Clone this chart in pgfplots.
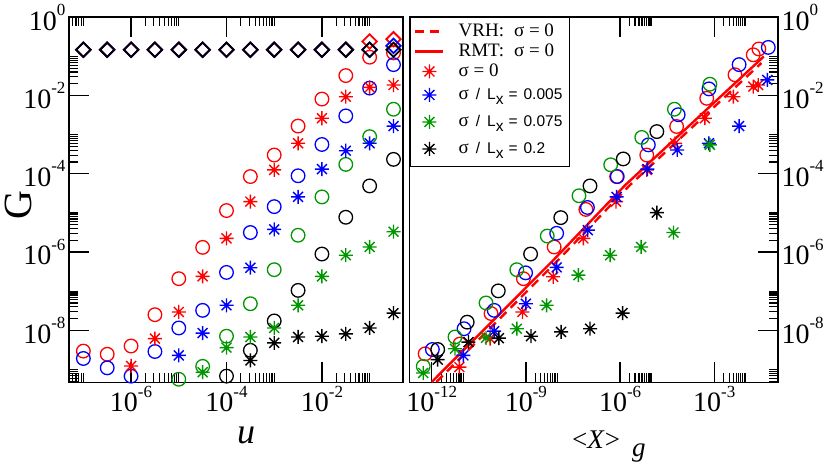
\documentclass[border=0pt]{standalone}
\usepackage{fontspec}
\setmainfont{Liberation Serif}
\setsansfont{Liberation Sans}
\usepackage{pgfplots}
\pgfplotsset{compat=1.18}

\definecolor{ggreen}{RGB}{0,150,0}

\pgfdeclareplotmark{ast8}{%
  \pgfpathmoveto{\pgfqpoint{-\pgfplotmarksize}{0pt}}%
  \pgfpathlineto{\pgfqpoint{\pgfplotmarksize}{0pt}}%
  \pgfpathmoveto{\pgfqpoint{0pt}{-\pgfplotmarksize}}%
  \pgfpathlineto{\pgfqpoint{0pt}{\pgfplotmarksize}}%
  \pgfpathmoveto{\pgfqpoint{-0.707\pgfplotmarksize}{-0.707\pgfplotmarksize}}%
  \pgfpathlineto{\pgfqpoint{0.707\pgfplotmarksize}{0.707\pgfplotmarksize}}%
  \pgfpathmoveto{\pgfqpoint{-0.707\pgfplotmarksize}{0.707\pgfplotmarksize}}%
  \pgfpathlineto{\pgfqpoint{0.707\pgfplotmarksize}{-0.707\pgfplotmarksize}}%
  \pgfusepathqstroke}

\newcommand{\tl}[1]{10\raisebox{0.53em}{\fontsize{17}{17}\selectfont #1}}
% legend texts
\newcommand{\lser}{\fontsize{19}{20}\selectfont}
\newcommand{\lsig}[1]{\lser\hspace{11pt}σ\hspace{7pt}\textsf{\fontsize{15.5}{17}\selectfont /\hspace{7pt}L\raisebox{-5pt}{x}\hspace{5pt}=\hspace{6pt}#1}}

\tikzset{
  legA/.style={text height=13pt, text depth=3pt},
  legB/.style={text height=16pt, text depth=7pt},
}

\pgfplotsset{
  myax/.style={
    scale only axis,
    ymin=4.7e-10, ymax=1.035,
    axis line style={line width=1.6pt},
    tick style={line width=1.2pt, black},
    major tick length=20pt, minor tick length=9pt,
    tick align=inside,
    tick label style={font=\fontsize{28}{30}\selectfont},
    clip=false,
    ytick={1e-8,1e-6,1e-4,1e-2,1},
    yticklabels={\tl{-8},\tl{-6},\tl{-4},\tl{-2},\tl{0}},
    minor ytick={5e-10,6e-10,7e-10,8e-10,9e-10,1e-9,
      2e-8,3e-8,4e-8,5e-8,6e-8,7e-8,8e-8,9e-8,1e-7,
      2e-6,3e-6,4e-6,5e-6,6e-6,7e-6,8e-6,9e-6,1e-5,
      2e-4,3e-4,4e-4,5e-4,6e-4,7e-4,8e-4,9e-4,1e-3,
      2e-2,3e-2,4e-2,5e-2,6e-2,7e-2,8e-2,9e-2,1e-1},
    legend image code/.code={\draw[mark repeat=2,mark phase=2,##1] plot coordinates {(0pt,0pt) (14pt,0pt) (28pt,0pt)};},
  },
  mycirc/.style={only marks, mark=o, mark size=6.8pt, mark options={line width=1.3pt}},
  mystar/.style={only marks, mark=ast8, mark size=7pt, mark options={line width=1.4pt}},
  mydiam/.style={only marks, mark=square, mark size=5.1pt, mark options={line width=1.8pt, rotate=45}},
}

\begin{document}
\begin{tikzpicture}
\useasboundingbox (0,0) rectangle (830pt,469pt);

% ---------------- left panel ----------------
\begin{axis}[xmode=log, ymode=log, myax,
  at={(69pt,86.7pt)}, anchor=south west,
  width=334pt, height=365.6pt,
  xmin=5e-8, xmax=0.5,
  xtick={1e-6,1e-4,1e-2},
  xticklabels={\tl{-6},\tl{-4},\tl{-2}},
  minor xtick={6e-8,7e-8,8e-8,9e-8,1e-7,
    2e-6,3e-6,4e-6,5e-6,6e-6,7e-6,8e-6,9e-6,1e-5,
    2e-4,3e-4,4e-4,5e-4,6e-4,7e-4,8e-4,9e-4,1e-3,
    2e-2,3e-2,4e-2,5e-2,6e-2,7e-2,8e-2,9e-2,1e-1},
  xtick pos=both, ytick pos=left,
  xlabel={\fontsize{36}{36}\selectfont\textit{u}},
  xlabel style={at={(axis description cs:0.53,0)}, anchor=base, yshift=-60.7pt},
  ylabel={\fontsize{40}{40}\selectfont G},
  ylabel style={at={(axis description cs:-0.152,0.485)}, anchor=center, inner sep=0pt},
]
% circles
\addplot[mycirc, red] coordinates {(1e-7,2.95e-9)(3.162e-7,2.45e-9)(1e-6,3.98e-9)(3.162e-6,2.51e-8)(1e-5,2.09e-7)(3.162e-5,1.32e-6)(1e-4,1.15e-5)(3.162e-4,8.51e-5)(1e-3,3.02e-4)(3.162e-3,1.66e-3)(1e-2,8.13e-3)(3.162e-2,3.24e-2)(1e-1,9.55e-2)(3.162e-1,1.23e-1)};
\addplot[mycirc, blue] coordinates {(1e-7,1.91e-9)(3.162e-7,1.10e-9)(1e-6,6.76e-10)(3.162e-6,2.88e-9)(1e-5,1.15e-8)(3.162e-5,3.24e-8)(1e-4,3.02e-7)(3.162e-4,3.16e-6)(1e-3,1.45e-5)(3.162e-3,8.91e-5)(1e-2,5.62e-4)(3.162e-2,3.02e-3)(1e-1,1.55e-2)(3.162e-1,6.17e-2)};
\addplot[mycirc, ggreen] coordinates {(1e-5,5.62e-10)(3.162e-5,1.20e-9)(1e-4,7.08e-9)(3.162e-4,4.79e-8)(1e-3,3.55e-7)(3.162e-3,2.69e-6)(1e-2,2.57e-5)(3.162e-2,1.74e-4)(1e-1,8.91e-4)(3.162e-1,4.47e-3)};
\addplot[mycirc, black] coordinates {(1e-4,6.76e-10)(3.162e-4,3.09e-9)(1e-3,1.74e-8)(3.162e-3,1.05e-7)(1e-2,8.91e-7)(3.162e-2,7.76e-6)(1e-1,4.90e-5)(3.162e-1,2.34e-4)};
% stars
\addplot[mystar, red] coordinates {(1e-6,1.23e-9)(3.162e-6,6.17e-9)(1e-5,2.95e-8)(3.162e-5,2.40e-7)(1e-4,2.24e-6)(3.162e-4,1.95e-5)(1e-3,1.26e-4)(3.162e-3,6.03e-4)(1e-2,2.63e-3)(3.162e-2,9.33e-3)(1e-1,1.62e-2)(3.162e-1,1.86e-2)};
\addplot[mystar, blue] coordinates {(1e-5,2.29e-9)(3.162e-5,8.51e-9)(1e-4,4.37e-8)(3.162e-4,3.98e-7)(1e-3,3.80e-6)(3.162e-3,2.57e-5)(1e-2,1.32e-4)(3.162e-2,3.89e-4)(1e-1,6.03e-4)(3.162e-1,1.66e-3)};
\addplot[mystar, ggreen] coordinates {(3.162e-5,8.51e-10)(1e-4,3.63e-9)(3.162e-4,6.76e-9)(1e-3,1.15e-8)(3.162e-3,4.37e-8)(1e-2,2.40e-7)(3.162e-2,8.32e-7)(1e-1,1.35e-6)(3.162e-1,3.31e-6)};
\addplot[mystar, black] coordinates {(3.162e-4,1.70e-9)(1e-3,4.79e-9)(3.162e-3,6.76e-9)(1e-2,7.08e-9)(3.162e-2,8.13e-9)(1e-1,1.15e-8)(3.162e-1,2.75e-8)};
% diamonds
\addplot[mydiam, red] coordinates {(1e-7,1.48e-1)(3.162e-7,1.48e-1)(1e-6,1.48e-1)(3.162e-6,1.48e-1)(1e-5,1.48e-1)(3.162e-5,1.48e-1)(1e-4,1.48e-1)(3.162e-4,1.48e-1)(1e-3,1.48e-1)(3.162e-3,1.48e-1)(1e-2,1.48e-1)(3.162e-2,1.48e-1)(1e-1,2.40e-1)(3.162e-1,2.75e-1)};
\addplot[mydiam, blue] coordinates {(1e-7,1.48e-1)(3.162e-7,1.48e-1)(1e-6,1.48e-1)(3.162e-6,1.48e-1)(1e-5,1.48e-1)(3.162e-5,1.48e-1)(1e-4,1.48e-1)(3.162e-4,1.48e-1)(1e-3,1.48e-1)(3.162e-3,1.48e-1)(1e-2,1.48e-1)(3.162e-2,1.48e-1)(1e-1,1.48e-1)(3.162e-1,1.86e-1)};
\addplot[mydiam, black] coordinates {(1e-7,1.48e-1)(3.162e-7,1.48e-1)(1e-6,1.48e-1)(3.162e-6,1.48e-1)(1e-5,1.48e-1)(3.162e-5,1.48e-1)(1e-4,1.48e-1)(3.162e-4,1.48e-1)(1e-3,1.48e-1)(3.162e-3,1.48e-1)(1e-2,1.48e-1)(3.162e-2,1.48e-1)(1e-1,1.48e-1)(3.162e-1,1.48e-1)};
\end{axis}

% ---------------- right panel ----------------
\begin{axis}[xmode=log, ymode=log, myax,
  at={(409.5pt,86.7pt)}, anchor=south west,
  width=368.5pt, height=365.6pt,
  xmin=1.96e-13, xmax=0.107,
  xtick={1e-12,1e-9,1e-6,1e-3},
  xticklabels={\tl{-12},\tl{-9},\tl{-6},\tl{-3}},
  minor xtick={2e-12,3e-12,4e-12,5e-12,6e-12,7e-12,8e-12,9e-12,1e-11,
    2e-9,3e-9,4e-9,5e-9,6e-9,7e-9,8e-9,9e-9,1e-8,
    2e-6,3e-6,4e-6,5e-6,6e-6,7e-6,8e-6,9e-6,1e-5,
    2e-3,3e-3,4e-3,5e-3,6e-3,7e-3,8e-3,9e-3,1e-2},
  xtick pos=both, ytick pos=right, yticklabel pos=right,
  xlabel={\fontsize{27}{27}\selectfont <\textit{X}>\hspace{12pt}\raisebox{-8pt}{\textit{g}}},
  xlabel style={at={(axis description cs:0.541,0)}, anchor=base, yshift=-66pt},
  legend style={at={(0,1)}, anchor=north west, draw=black, line width=1.5pt,
    font=\fontsize{19}{20}\selectfont, inner xsep=4pt, inner ysep=4pt,
    nodes={inner xsep=3pt, inner ysep=2pt}},
  legend cell align=left,
]
% circles (no legend)
\addplot[mycirc, red, forget plot] coordinates {(2.63e-2,1.55e-1)(1.74e-2,1.10e-1)(4.57e-3,3.39e-2)(5.75e-4,8.51e-3)(6.31e-5,1.62e-3)(7.08e-6,3.02e-4)(7.76e-7,8.51e-5)(8.13e-8,1.23e-5)(7.94e-9,1.35e-6)(8.32e-10,2.09e-7)(7.76e-11,2.69e-8)(7.94e-12,4.47e-9)(6.17e-13,2.51e-9)};
\addplot[mycirc, blue, forget plot] coordinates {(5.25e-2,1.70e-1)(6.17e-3,6.17e-2)(6.76e-4,1.48e-2)(7.08e-5,3.24e-3)(7.94e-6,5.50e-4)(8.13e-7,8.51e-5)(9.12e-8,1.38e-5)(9.55e-9,3.02e-6)(9.77e-10,2.95e-7)(9.77e-11,3.24e-8)(1.07e-11,1.10e-8)(1.05e-12,3.24e-9)};
\addplot[mycirc, ggreen, forget plot] coordinates {(7.24e-4,1.95e-2)(5.37e-5,4.47e-3)(4.90e-6,8.51e-4)(5.01e-7,1.70e-4)(4.90e-8,2.75e-5)(4.79e-9,2.57e-6)(5.13e-10,3.55e-7)(5.37e-11,5.01e-8)(5.50e-12,6.76e-9)(5.37e-13,1.20e-9)};
\addplot[mycirc, black, forget plot] coordinates {(1.48e-5,1.20e-3)(1.26e-6,2.40e-4)(1.10e-7,4.90e-5)(1.29e-8,7.59e-6)(1.41e-9,8.91e-7)(1.32e-10,1.02e-7)(1.35e-11,1.62e-8)(1.55e-12,3.24e-9)};
% lines
\addplot[red, line width=2.4pt, dash pattern=on 9pt off 6pt] coordinates {(1.41e-12,4.79e-10)(1.05e-8,6.17e-7)(2.04e-6,5.13e-5)(3.16e-2,6.76e-2)};
\addlegendentry[legA]{\lser\hspace{11pt}VRH:\hspace{10pt}σ = 0}
\addplot[red, line width=2.4pt] coordinates {(1e-12,4.79e-10)(7.41e-9,6.17e-7)(1.45e-6,5.13e-5)(3.80e-2,1e-1)};
\addlegendentry[legA]{\lser\hspace{11pt}RMT:\hspace{10pt}σ = 0}
% stars
\addplot[mystar, red] coordinates {(2.51e-2,1.86e-2)(1.74e-2,1.70e-2)(4.07e-3,9.33e-3)(5.01e-4,2.63e-3)(5.62e-5,6.03e-4)(7.08e-6,1.26e-4)(7.41e-7,1.95e-5)(6.76e-8,2.24e-6)(7.41e-9,2.34e-7)(7.76e-10,2.95e-8)(7.24e-11,6.17e-9)(7.59e-12,1.15e-9)};
\addlegendentry[legA]{\lser\hspace{11pt}σ = 0}
\addplot[mystar, blue] coordinates {(4.90e-2,2.51e-2)(6.17e-3,1.66e-3)(6.76e-4,6.03e-4)(6.61e-5,4.07e-4)(7.41e-6,1.32e-4)(7.76e-7,2.57e-5)(9.33e-8,3.63e-6)(9.55e-9,4.07e-7)(1e-9,4.79e-8)(9.77e-11,9.55e-9)(1.02e-11,2.29e-9)};
\addlegendentry[legB]{\lsig{0.005}}
\addplot[mystar, ggreen] coordinates {(7.24e-4,5.50e-4)(5.01e-5,3.16e-6)(4.68e-6,1.35e-6)(4.79e-7,8.32e-7)(4.68e-8,2.57e-7)(4.57e-9,4.37e-8)(5.13e-10,1.10e-8)(5.37e-11,6.46e-9)(5.50e-12,3.39e-9)(5.37e-13,8.13e-10)};
\addlegendentry[legB]{\lsig{0.075}}
\addplot[mystar, black] coordinates {(1.48e-5,1.02e-5)(1.20e-6,2.75e-8)(1.10e-7,1.10e-8)(1.32e-8,9.12e-9)(1.45e-9,7.08e-9)(1.38e-10,6.31e-9)(1.48e-11,5.01e-9)(1.55e-12,1.78e-9)};
\addlegendentry[legB]{\lsig{0.2}}
\end{axis}
\end{tikzpicture}
\end{document}
